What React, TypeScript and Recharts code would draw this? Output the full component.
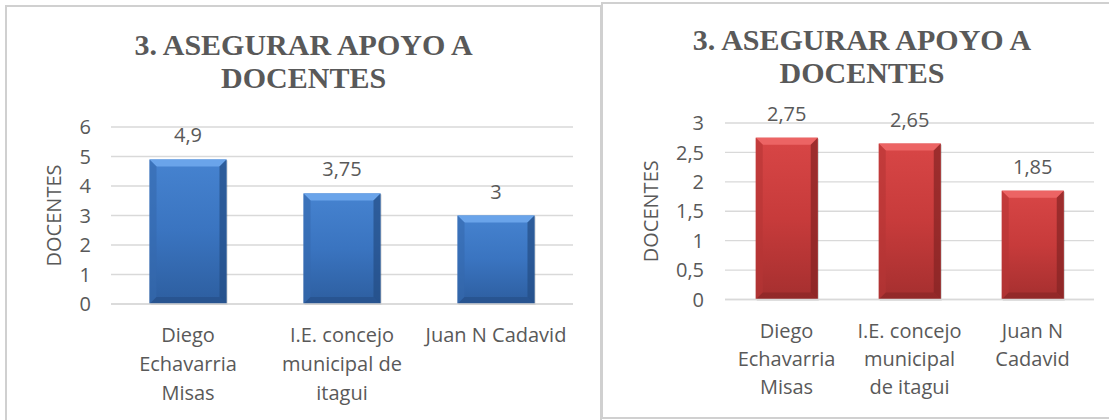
import { BarChart, Bar, XAxis, YAxis, CartesianGrid, LabelList } from "recharts";

// chart data
const categories = ["Diego Echavarria Misas", "I.E. concejo municipal de itagui", "Juan N Cadavid"];
const leftValues = [4.9, 3.75, 3];
const rightValues = [2.75, 2.65, 1.85];
const leftTicks = [0, 1, 2, 3, 4, 5, 6];
const rightTicks = [0, 0.5, 1, 1.5, 2, 2.5, 3];
const leftTickLines = [["Diego", "Echavarria", "Misas"], ["I.E. concejo", "municipal de", "itagui"], ["Juan N Cadavid"]];
const rightTickLines = [["Diego", "Echavarria", "Misas"], ["I.E. concejo", "municipal", "de itagui"], ["Juan N", "Cadavid"]];
const titleLines = ["3. ASEGURAR APOYO A", "DOCENTES"];
const axisTitle = "DOCENTES";

const TEXT = "#595959";
const GRID = "#d9d9d9";
const BORDER = "#d0d0d0";
const FONT = "'Open Sans', sans-serif";
const SERIF = "'Liberation Serif', 'DejaVu Serif', serif";
const FS = 20;

const comma = (v: number | string) => String(v).replace(".", ",");

type Palette = { top: string; mid: string; bottom: string; bevelTop: string; bevelSide: string; bevelDark: string };

const BLUE: Palette = {
    top: "#4683d0", mid: "#3a74c0", bottom: "#2d5e9f",
    bevelTop: "#6aa4ea", bevelSide: "#3569ad", bevelDark: "#244d85",
};
const RED: Palette = {
    top: "#d84646", mid: "#c73b3b", bottom: "#a52f2f",
    bevelTop: "#ec6464", bevelSide: "#b53535", bevelDark: "#852424",
};

function bevelShape(p: Palette, gid: string) {
    return (props: any) => {
        const { x, y, width: w, height: h } = props;
        if (!h || h <= 0) return null;
        const b = Math.min(7, w / 4, h / 4);
        return (
            <g>
                <defs>
                    <linearGradient id={gid} x1="0" y1="0" x2="0" y2="1">
                        <stop offset="0%" stopColor={p.top} />
                        <stop offset="50%" stopColor={p.mid} />
                        <stop offset="100%" stopColor={p.bottom} />
                    </linearGradient>
                </defs>
                <rect x={x + 1} y={y + 1} width={w} height={h} fill="rgba(0,0,0,0.18)" />
                <rect x={x} y={y} width={w} height={h} fill={`url(#${gid})`} />
                <polygon points={`${x},${y} ${x + w},${y} ${x + w - b},${y + b} ${x + b},${y + b}`} fill={p.bevelTop} />
                <polygon points={`${x},${y} ${x + b},${y + b} ${x + b},${y + h - b} ${x},${y + h}`} fill={p.bevelSide} opacity={0.6} />
                <polygon points={`${x + w},${y} ${x + w - b},${y + b} ${x + w - b},${y + h - b} ${x + w},${y + h}`} fill={p.bevelDark} opacity={0.7} />
                <polygon points={`${x},${y + h} ${x + b},${y + h - b} ${x + w - b},${y + h - b} ${x + w},${y + h}`} fill={p.bevelDark} opacity={0.6} />
            </g>
        );
    };
}

function makeTick(lines: string[][], lineGap: number) {
    return (props: any) => {
        const { x, y, payload } = props;
        const idx = payload?.index ?? props.index ?? 0;
        const rows = lines[idx] || [];
        return (
            <text x={x} y={y} textAnchor="middle" fill={TEXT} fontSize={FS} fontFamily={FONT}>
                {rows.map((r, i) => (
                    <tspan key={i} x={x} y={y + 38 + i * lineGap}>{r}</tspan>
                ))}
            </text>
        );
    };
}

function axisLabel(dx: number) {
    return (props: any) => {
        const vb = props.viewBox || {};
        const cx = vb.x + dx;
        const cy = vb.y + vb.height / 2;
        return (
            <text x={cx} y={cy} transform={`rotate(-90 ${cx} ${cy})`} textAnchor="middle"
                dominantBaseline="central" fill={TEXT} fontSize={FS} fontFamily={FONT}>
                {axisTitle}
            </text>
        );
    };
}

interface PanelProps {
    left: number; top: number; width: number; height: number;
    values: number[]; ticks: number[]; tickLines: string[][];
    plotTop: number; plotHeight: number; yWidth: number; rightMargin: number;
    tickMargin: number; labelDx: number; lineGap: number;
    titleTop: number; titleCenter: number; palette: Palette; gid: string;
}

function Panel(p: PanelProps) {
    const data = categories.map((c, i) => ({ name: c, value: p.values[i] }));
    const xHeight = p.height - p.plotTop - p.plotHeight;
    return (
        <div style={{
            position: "absolute", left: p.left, top: p.top, width: p.width, height: p.height, background: "#fff",
        }}>
            <div style={{
                position: "absolute", left: p.titleCenter - 300, width: 600, top: p.titleTop,
                textAlign: "center", fontFamily: SERIF,
                fontWeight: 700, fontSize: 30, lineHeight: "33px", color: TEXT,
            }}>
                {titleLines.map((t) => <div key={t}>{t}</div>)}
            </div>
            <div style={{ position: "absolute", left: 0, top: 0 }}>
                <BarChart width={p.width} height={p.height} data={data} barCategoryGap="25%"
                    margin={{ top: p.plotTop, right: p.rightMargin, bottom: 0, left: 0 }}>
                    <CartesianGrid horizontal vertical={false} stroke={GRID} strokeWidth={1.3} />
                    <XAxis dataKey="name" interval={0} height={xHeight} tickLine={false} tickSize={0} tickMargin={0}
                        axisLine={{ stroke: GRID, strokeWidth: 1.3 }} tick={makeTick(p.tickLines, p.lineGap)} />
                    <YAxis width={p.yWidth} ticks={p.ticks} domain={[p.ticks[0], p.ticks[p.ticks.length - 1]]}
                        axisLine={false} tickLine={false} tickSize={0} tickMargin={p.tickMargin}
                        tickFormatter={comma} tick={{ fill: TEXT, fontSize: FS, fontFamily: FONT }}
                        label={axisLabel(p.labelDx)} />
                    <Bar dataKey="value" isAnimationActive={false} shape={bevelShape(p.palette, p.gid)}>
                        <LabelList dataKey="value" position="top" offset={17} formatter={comma}
                            fill={TEXT} fontSize={FS} fontFamily={FONT} />
                    </Bar>
                </BarChart>
            </div>
            <div style={{
                position: "absolute", left: 0, top: 0, width: p.width, height: p.height,
                border: `2px solid ${BORDER}`, boxSizing: "border-box", pointerEvents: "none",
            }} />
        </div>
    );
}

export default function App() {
    return (
        <div style={{ position: "absolute", left: 0, top: 0, width: 1109, height: 420, overflow: "hidden", background: "#fff" }}>
            <Panel left={5} top={5} width={597} height={430} values={leftValues} ticks={leftTicks}
                tickLines={leftTickLines} plotTop={122} plotHeight={177} yWidth={106} rightMargin={29}
                tickMargin={20} labelDx={48.6} lineGap={29} titleTop={23} titleCenter={298.6}
                palette={BLUE} gid="blueBar" />
            <Panel left={601} top={2} width={520} height={417} values={rightValues} ticks={rightTicks}
                tickLines={rightTickLines} plotTop={121} plotHeight={176.5} yWidth={124} rightMargin={27}
                tickMargin={21} labelDx={49} lineGap={28.3} titleTop={21} titleCenter={261}
                palette={RED} gid="redBar" />
        </div>
    );
}
